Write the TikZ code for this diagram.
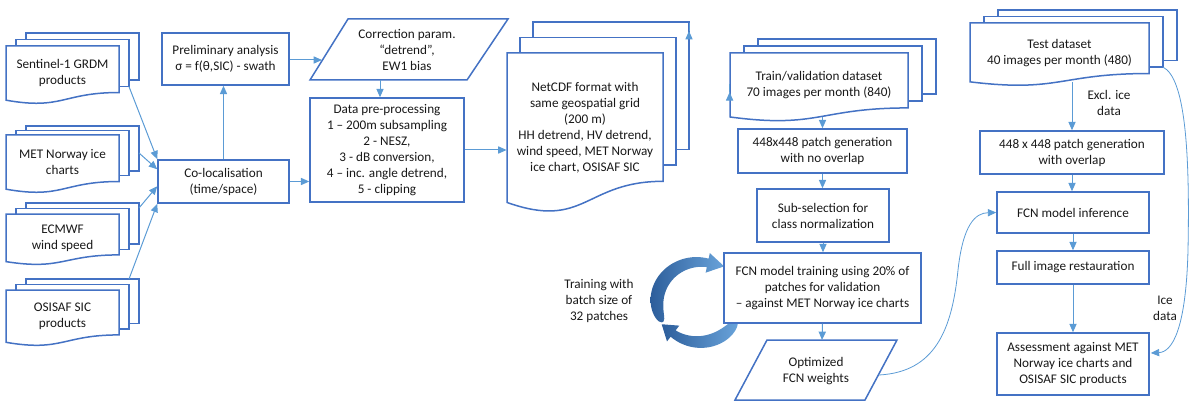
\documentclass[tikz,border=0pt]{standalone}
\usepackage{fontspec}
\setmainfont{Carlito}
\usetikzlibrary{arrows.meta,calc}
\definecolor{boxblue}{RGB}{68,114,196}
\definecolor{lineblue}{RGB}{91,155,213}
\definecolor{arrdark}{RGB}{45,94,155}
\definecolor{arrlight}{RGB}{105,163,218}
\definecolor{txt}{RGB}{25,25,25}
\newcommand{\myfs}{\fontsize{6.6}{8}\selectfont}
\newcommand{\hwu}{(0.8+6*sin(144*sqrt(\x)))}
\newcommand{\hwl}{(0.8+5.5*sin(144*sqrt(\x)))}
\tikzset{
  boxs/.style={draw=boxblue, line width=0.75pt, fill=white, align=center, inner sep=0pt, text=txt, font=\myfs},
  docline/.style={draw=boxblue, line width=0.75pt, fill=white},
  doctext/.style={align=center, inner sep=0pt, text=txt, font=\myfs},
  conn/.style={draw=lineblue, line width=0.5pt, -{Triangle[length=4.2pt,width=3.6pt]}},
  thinconn/.style={draw=lineblue, line width=0.4pt, -{Triangle[length=4.2pt,width=3.6pt]}},
  lbl/.style={align=center, inner sep=0pt, text=txt, font=\myfs},
}
% #1 name, #2 x0, #3 x1, #4 ytop, #5 h, #6 dx, #7 dy, #8 text
\newcommand{\mystack}[8]{%
  \draw[docline] ({#2+2*#6},{#4-2*#7}) rectangle ({#3+2*#6},{#4+0.7*#5-#7});
  \draw[docline] ({#2+#6},{#4-#7}) rectangle ({#3+#6},{#4+0.7*#5});
  \draw[docline] (#2,#4) -- (#3,#4) -- (#3,{#4+0.802*#5})
     .. controls ({(#2+#3)/2},{#4+0.802*#5}) and ({(#2+#3)/2},{#4+1.1075*#5}) .. (#2,{#4+0.934*#5}) -- cycle;
  \node[doctext, minimum width={(#3-#2)*0.5pt}] (#1) at ({(#2+#3)/2},{#4+0.47*#5}) {#8};
  \coordinate (#1-s) at ({(#2+#3)/2},{#4+0.933*#5});
  \coordinate (#1-mse) at ({#3+#6},{#4+0.7*#5});
  \coordinate (#1-bne) at ({#3+2*#6},{#4-2*#7});
}
\begin{document}
\begin{tikzpicture}[x=0.5pt,y=-0.5pt]
\useasboundingbox (0,0) rectangle (1189,401);

% ---- left input stacks
\mystack{sent}{6}{119}{46}{58}{10}{6.5}{Sentinel-1 GRDM\\products}
\mystack{met}{6}{119}{135}{58}{10}{4.5}{MET Norway ice\\charts}
\mystack{ecm}{6}{119}{214}{51}{10}{5.5}{ECMWF\\wind speed}
\mystack{osi}{6}{119}{290}{56}{10}{5.5}{OSISAF SIC\\products}

% ---- boxes
\node[boxs, minimum width=63.5pt, minimum height=26pt] (prelim) at (225.5,59) {Preliminary analysis\\σ = f(θ,SIC) - swath};
\node[boxs, minimum width=65.5pt, minimum height=21.5pt] (coloc) at (223.5,181.5) {Co-localisation\\(time/space)};
\node[boxs, minimum width=77pt, minimum height=52pt] (datapre) at (387,150) {Data pre-processing\\1 – 200m subsampling\\2 - NESZ,\\3 - dB conversion,\\4 – inc. angle detrend,\\5 - clipping};

% correction parallelogram
\draw[docline] (348,19) -- (508,19) -- (467,80) -- (310,80) -- cycle;
\node[lbl] (corr) at (407,50) {Correction param.\\“detrend”,\\EW1 bias};
\coordinate (corrin) at (322,60);
\coordinate (corrbot) at (380,80);

% NetCDF stack
\mystack{net}{507}{663}{53}{160}{13}{15.5}{NetCDF format with\\same geospatial grid\\(200 m)\\HH detrend, HV detrend,\\wind speed, MET Norway\\ice chart, OSISAF SIC}

% Train / test stacks
\mystack{train}{730}{908}{53}{68.5}{14}{7}{Train/validation dataset\\70 images per month (840)}
\mystack{test}{970}{1149}{23}{63}{14}{6.5}{Test dataset\\40 images per month (480)}

% circular arrows (behind training box)
\shade[left color=arrdark, right color=arrlight]
  plot[domain=0:1,samples=40] ({699+(42+\hwu)*cos(210-132*\x)},{302-(40+\hwu)*sin(210-132*\x)})
  -- ({699+52*cos(78)},{302-50*sin(78)})
  -- ({699+45*cos(56)},{302-43*sin(56)})
  -- ({699+32*cos(78)},{302-30*sin(78)})
  -- plot[domain=1:0,samples=40] ({699+(42-\hwu)*cos(210-132*\x)},{302-(40-\hwu)*sin(210-132*\x)})
  -- cycle;
\shade[left color=arrdark, right color=arrlight]
  plot[domain=0:1,samples=40] ({699+(42+\hwl)*cos(-28-100*\x)},{302-(40+\hwl)*sin(-28-100*\x)})
  -- ({699+52*cos(-128)},{302-50*sin(-128)})
  -- ({699+44*cos(-148)},{302-42*sin(-148)})
  -- ({699+32*cos(-128)},{302-30*sin(-128)})
  -- plot[domain=1:0,samples=40] ({699+(42-\hwl)*cos(-28-100*\x)},{302-(40-\hwl)*sin(-28-100*\x)})
  -- cycle;
\node[lbl] (batch) at (599,301) {Training with\\batch size of\\32 patches};

\node[boxs, minimum width=84.5pt, minimum height=22pt] (patch1) at (822.5,151) {448x448 patch generation\\with no overlap};
\node[boxs, minimum width=66pt, minimum height=26.5pt] (subsel) at (823,215.5) {Sub-selection for\\class normalization};
\node[boxs, minimum width=98.5pt, minimum height=35pt] (trainbox) at (822.5,288) {FCN model training using 20\% of\\patches for validation\\ – against MET Norway ice charts};

% optimized weights parallelogram
\draw[docline] (767,340) -- (897,340) -- (865,400) -- (735,400) -- cycle;
\node[lbl] (opt) at (816,371.5) {Optimized\\FCN weights};
\coordinate (opttop) at (822,340);
\coordinate (optout) at (879,375);

\node[boxs, minimum width=92pt, minimum height=21.5pt] (patch2) at (1072,152.5) {448 x 448 patch generation\\with overlap};
\node[boxs, minimum width=76pt, minimum height=20.5pt] (infer) at (1073,212.5) {FCN model inference};
\node[boxs, minimum width=76pt, minimum height=16.5pt] (restore) at (1073,267.5) {Full image restauration};
\node[boxs, minimum width=76pt, minimum height=31pt] (assess) at (1073,364) {Assessment against MET\\Norway ice charts and\\OSISAF SIC products};

% ---- connectors
\draw[conn] (sent-mse) -- (coloc.north west);
\draw[conn] ($(met-bne)+(0,27)$) -- ($(coloc.north west)+(0,10)$);
\draw[conn] ($(ecm-bne)+(0,5)$) -- ($(coloc.north west)+(0,27)$);
\draw[conn] ($(osi-bne)+(-10,0)$) -- (coloc.south west);
\draw[conn] (coloc.north) -- (coloc.north |- prelim.south);
\draw[conn] (prelim.east |- corrin) -- (corrin);
\draw[conn] (corrbot) -- (corrbot |- datapre.north);
\draw[conn] (coloc.east) -- (coloc.east -| datapre.west);
\draw[conn] (datapre.east) -- (datapre.east -| net.west);
\draw[conn] ($(net-bne)+(0,9)$) -- ($(net-bne)+(0,9)$ -| test.west);
\draw[conn] ($(train.west)+(0,7)$ -| net.east) -- ($(train.west)+(0,7)$);
\draw[conn] (patch1.north |- train-s) -- (patch1.north);
\draw[conn] (patch1.south) -- (patch1.south |- subsel.north);
\draw[conn] (subsel.south) -- (subsel.south |- trainbox.north);
\draw[conn] (trainbox.south) -- (opttop);
\draw[conn] (patch2.north |- test-s) -- (patch2.north);
\node[lbl] (excl) at (1109,103) {Excl. ice\\data};
\draw[conn] (patch2.south) -- (patch2.south |- infer.north);
\draw[conn] (infer.south) -- (restore.north);
\draw[conn] (restore.south) -- (assess.north);
\draw[thinconn] (optout) .. controls (935,372) and (952,330) .. (958,270)
   .. controls (963,225) and (975,213) .. (infer.west);
\draw[thinconn] (test-mse) .. controls (1185,78) and (1190,150) .. (1188,250)
   .. controls (1186,330) and (1172,352) .. ($(assess.east)+(1,-11)$);
\node[lbl] (icedata) at (1165,308) {Ice\\data};
\end{tikzpicture}
\end{document}
